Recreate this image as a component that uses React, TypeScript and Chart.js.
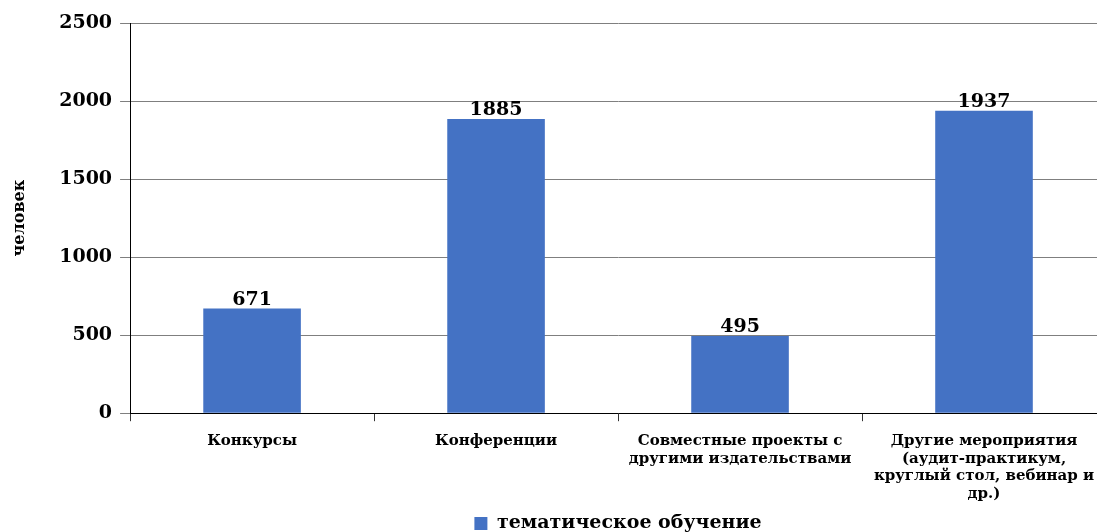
import React, { useEffect, useRef } from "react";
import { Chart, registerables } from "chart.js";

Chart.register(...registerables);

const categories: string[][] = [
  ["Конкурсы"],
  ["Конференции"],
  ["Совместные проекты с", "другими издательствами"],
  ["Другие мероприятия", "(аудит-практикум,", "круглый стол, вебинар и", "др.)"],
];
const seriesName = "тематическое обучение";
const values = [671, 1885, 495, 1937];
const yTitle = "человек";
const yMax = 2500;
const yStep = 500;

const FONT = "'DejaVu Serif', serif";

const dataLabels = {
  id: "dataLabels",
  afterDatasetsDraw(chart: any) {
    const ctx = chart.ctx;
    const meta = chart.getDatasetMeta(0);
    ctx.save();
    ctx.font = `bold 19px ${FONT}`;
    ctx.fillStyle = "#000";
    ctx.textAlign = "center";
    ctx.textBaseline = "bottom";
    meta.data.forEach((el: any, i: number) => {
      ctx.fillText(String(values[i]), el.x, el.y + 1);
    });
    ctx.restore();
  },
};

export default function App() {
  const ref = useRef<HTMLCanvasElement | null>(null);
  useEffect(() => {
    if (!ref.current) return;
    const chart = new Chart(ref.current, {
      type: "bar",
      data: {
        labels: categories,
        datasets: [
          {
            label: seriesName,
            data: values,
            backgroundColor: "#4472C4",
            categoryPercentage: 0.4,
            barPercentage: 1,
          },
        ],
      },
      options: {
        animation: false,
        responsive: false,
        maintainAspectRatio: false,
        layout: { padding: { top: 23, right: 1, left: 10, bottom: 0 } },
        plugins: {
          tooltip: { enabled: false },
          legend: {
            position: "bottom",
            fullSize: false,
            labels: {
              color: "#000",
              font: { family: FONT, size: 19, weight: "bold" },
              boxWidth: 13,
              boxHeight: 13,
              padding: 0,
            },
          },
        },
        scales: {
          x: {
            grid: {
              offset: true,
              drawOnChartArea: false,
              drawTicks: true,
              tickLength: 8,
              color: "#333",
            },
            border: { color: "#000", width: 1 },
            ticks: {
              color: "#000",
              font: { family: FONT, size: 15, weight: "bold", lineHeight: 1.18 },
              maxRotation: 0,
              autoSkip: false,
              padding: 11,
            },
          },
          y: {
            min: 0,
            max: yMax,
            ticks: {
              stepSize: yStep,
              color: "#000",
              font: { family: FONT, size: 19, weight: "bold" },
              padding: 8,
              callback: (v: any) => String(v),
            },
            grid: { color: "#7f7f7f", tickLength: 10, tickColor: "#7f7f7f" },
            border: { color: "#000", width: 1 },
            title: {
              display: true,
              text: yTitle,
              color: "#000",
              font: { family: FONT, size: 16, weight: "bold" },
              padding: { top: 0, bottom: 22 },
            },
          },
        },
      },
      plugins: [dataLabels],
    });
    return () => chart.destroy();
  }, []);
  return (
    <div style={{ position: "fixed", left: 0, top: 0, width: 1097, height: 532, overflow: "hidden", background: "#fff" }}>
      <canvas ref={ref} width={1107} height={543} style={{ display: "block" }} />
    </div>
  );
}
